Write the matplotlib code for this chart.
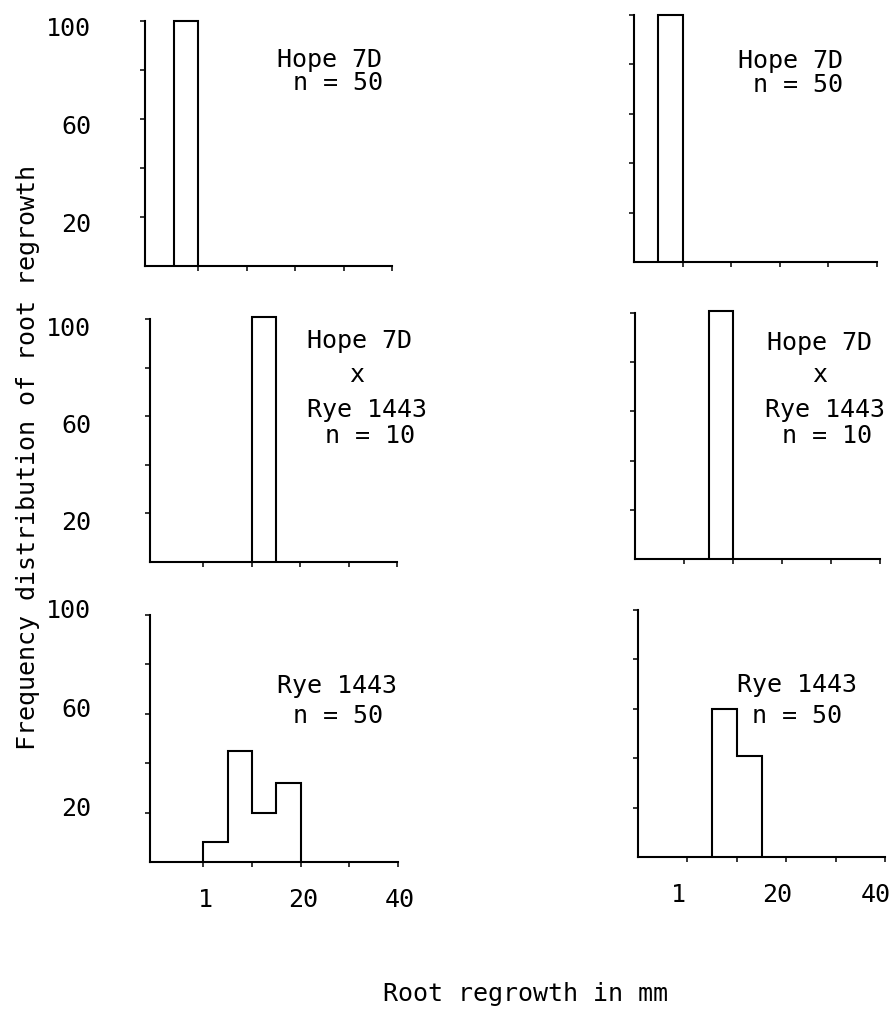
import numpy as np
import matplotlib.pyplot as plt
from matplotlib.transforms import ScaledTranslation

plt.rcParams['font.family'] = 'DejaVu Sans Mono'

W, H = 890, 1009

# x axis is drawn in tick units: ticks 1..5, labelled 1, -, 20, -, 40 (mm)
x_ticks = [1, 2, 3, 4, 5]
x_ticklabels = ["1", "", "20", "", "40"]
y_ticks = [20, 40, 60, 80, 100]
y_ticklabels = ["20", "", "60", "", "100"]

# frequency (%) of root regrowth, bin edges in tick units
hope_left_edges = [0.5, 1.0]
hope_left = [100]
hope_right_edges = [0.5, 1.0]
hope_right = [100]
cross_left_edges = [2.0, 2.5]
cross_left = [101]
cross_right_edges = [1.5, 2.0]
cross_right = [101]
rye_left_edges = [1.0, 1.5, 2.0, 2.5, 3.0]
rye_left = [8, 45, 20, 32]
rye_right_edges = [1.5, 2.0, 2.5]
rye_right = [60, 41]

hope_text = ["Hope 7D", "n = 50"]
cross_text = ["Hope 7D", "x", "Rye 1443", "n = 10"]
rye_text = ["Rye 1443", "n = 50"]


def px(x, y):
    return x / W, 1 - y / H


# (edges, values, text, axes box in px [left, right, top, bottom], text anchors in px, row, col)
panels = [
    (hope_left_edges, hope_left, hope_text, (145, 392, 21, 266),
     [(277, 67), (293, 90)], 0, 0),
    (hope_right_edges, hope_right, hope_text, (634, 877, 15, 262),
     [(738, 68), (753, 92)], 0, 1),
    (cross_left_edges, cross_left, cross_text, (150, 397, 319, 562),
     [(307, 348), (349, 382), (307, 417), (325, 443)], 1, 0),
    (cross_right_edges, cross_right, cross_text, (635, 880, 313, 559),
     [(767, 350), (812, 382), (765, 417), (782, 443)], 1, 1),
    (rye_left_edges, rye_left, rye_text, (150, 398, 615, 862),
     [(277, 693), (293, 723)], 2, 0),
    (rye_right_edges, rye_right, rye_text, (638, 885, 610, 857),
     [(737, 692), (752, 723)], 2, 1),
]

row_label_shift = [5, 7, -6]  # px, y tick labels sit a little off their ticks
col_label_shift = [2, -9]     # px, x tick labels of the bottom row

fig = plt.figure(figsize=(W / 100, H / 100), dpi=100)

for edges, values, text, box, anchors, row, col in panels:
    left, right, top, bottom = box
    x0, y0 = px(left, bottom)
    ax = fig.add_axes([x0, y0, (right - left) / W, (bottom - top) / H])

    ax.stairs(values, edges, baseline=0, fill=False, color='black',
              linewidth=1.5, clip_on=False)

    ax.set_xlim(-0.1 if col == 0 else 0, 5)
    ax.set_ylim(0, 100)
    for side in ['top', 'right']:
        ax.spines[side].set_visible(False)
    for side in ['left', 'bottom']:
        ax.spines[side].set_linewidth(1.5)

    ax.set_xticks(x_ticks)
    ax.set_yticks(y_ticks)
    ax.tick_params(length=3.5, width=1.1, labelsize=18)

    if row == 2:
        ax.set_xticklabels(x_ticklabels)
        ax.tick_params(axis='x', pad=15)
        shift = ScaledTranslation(col_label_shift[col] / 100, 0, fig.dpi_scale_trans)
        for lab in ax.get_xticklabels():
            lab.set_transform(lab.get_transform() + shift)
    else:
        ax.set_xticklabels([])

    if col == 0:
        ax.set_yticklabels(y_ticklabels)
        ax.tick_params(axis='y', pad=(left - 91 - 5) / 1.389)
        shift = ScaledTranslation(0, -row_label_shift[row] / 100, fig.dpi_scale_trans)
        for lab in ax.get_yticklabels():
            lab.set_transform(lab.get_transform() + shift)
    else:
        ax.set_yticklabels([])

    for line, (tx, ty) in zip(text, anchors):
        fx, fy = px(tx, ty)
        fig.text(fx, fy, line, fontsize=18, ha='left', va='baseline')

fx, fy = px(28, 458)
fig.text(fx, fy, "Frequency distribution of root regrowth", fontsize=18,
         rotation=90, ha='center', va='center')
fx, fy = px(383, 1001)
fig.text(fx, fy, "Root regrowth in mm", fontsize=18, ha='left', va='baseline')

fig.savefig("out.png", dpi=100)
